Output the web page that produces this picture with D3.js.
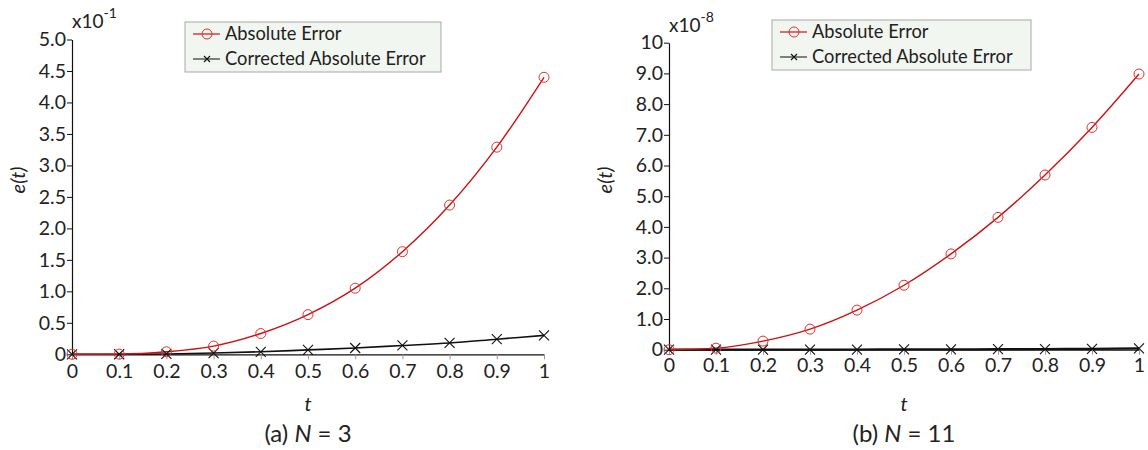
<!DOCTYPE html>
<html>
<head>
<meta charset="utf-8">
<script src="https://cdn.jsdelivr.net/npm/d3@7"></script>
<style>
  body { margin: 0; background: #fff; }
  svg text { font-family: Lato, "Open Sans", sans-serif; fill: #222; }
  .domain { stroke: #111; stroke-width: 1.2; }
  .xAxis .tick line { stroke: #999; }
  .yAxis .tick line { stroke: #111; }
</style>
</head>
<body>
<div class="container"></div>
<script>
// t values shared by both panels
var tValues = [0, 0.1, 0.2, 0.3, 0.4, 0.5, 0.6, 0.7, 0.8, 0.9, 1];
var xTicks = [0, 0.1, 0.2, 0.3, 0.4, 0.5, 0.6, 0.7, 0.8, 0.9, 1];
var xTickLabels = ["0", "0.1", "0.2", "0.3", "0.4", "0.5", "0.6", "0.7", "0.8", "0.9", "1"];

// panel (a) N = 3, values in units of 1e-1
var absErrA = [0, 0.003, 0.04, 0.13, 0.33, 0.63, 1.05, 1.63, 2.37, 3.29, 4.40];
var corrErrA = [0, 0.001, 0.005, 0.02, 0.04, 0.07, 0.10, 0.14, 0.18, 0.24, 0.30];
var yTicksA = [0, 0.5, 1, 1.5, 2, 2.5, 3, 3.5, 4, 4.5, 5];
var yTickLabelsA = ["0", "0.5", "1.0", "1.5", "2.0", "2.5", "3.0", "3.5", "4.0", "4.5", "5.0"];

// panel (b) N = 11, values in units of 1e-8
var absErrB = [0, 0.05, 0.28, 0.67, 1.29, 2.10, 3.12, 4.31, 5.69, 7.24, 8.98];
var corrErrB = [0, 0, 0.002, 0.004, 0.006, 0.009, 0.012, 0.016, 0.022, 0.03, 0.04];
var yTicksB = [0, 1, 2, 3, 4, 5, 6, 7, 8, 9, 10];
var yTickLabelsB = ["0", "1.0", "2.0", "3.0", "4.0", "5.0", "6.0", "7.0", "8.0", "9.0", "10"];

var legendNames = ["Absolute Error", "Corrected Absolute Error"];

var RED = "#cc1111";

var svg = d3.select('.container').append('svg')
  .attr('width', 1148)
  .attr('height', 450);

var translate = function (x, y) {
  return "translate(" + x + "," + y + ")";
};

var drawCircle = function (g, x, y) {
  g.append('circle')
    .attr('cx', x).attr('cy', y).attr('r', 5)
    .attr('fill', 'none')
    .attr('stroke', '#e03030')
    .attr('stroke-width', 1);
};

var drawCross = function (g, x, y, s) {
  g.append('path')
    .attr('d', 'M' + (x - s) + ',' + (y - s) + 'L' + (x + s) + ',' + (y + s) +
      'M' + (x - s) + ',' + (y + s) + 'L' + (x + s) + ',' + (y - s))
    .attr('stroke', '#111')
    .attr('stroke-width', 1.1);
};

var drawPanel = function (p) {
  var xScale = d3.scaleLinear().domain([0, 1]).range([p.left, p.right]);
  var yScale = d3.scaleLinear().domain([0, p.yMax]).range([p.bottom, p.top]);

  var xAxis = d3.axisBottom(xScale)
    .tickValues(xTicks)
    .tickFormat(function (d, i) { return xTickLabels[i]; })
    .tickSizeInner(5).tickSizeOuter(0).tickPadding(p.xPad);
  var yAxis = d3.axisLeft(yScale)
    .tickValues(p.yTicks)
    .tickFormat(function (d, i) { return p.yLabels[i]; })
    .tickSizeInner(5).tickSizeOuter(0).tickPadding(1);

  var gx = svg.append('g')
    .attr('transform', translate(0, p.bottom))
    .classed('xAxis', true)
    .call(xAxis);
  gx.selectAll('text').style('font-size', '19.5px').attr('fill', '#222');

  var gy = svg.append('g')
    .attr('transform', translate(p.left, 0))
    .classed('yAxis', true)
    .call(yAxis);
  gy.selectAll('text').style('font-size', '19.5px').attr('fill', '#222');

  // exponent label
  var ex = svg.append('text')
    .attr('x', p.left).attr('y', p.expY)
    .style('font-size', '19px');
  ex.append('tspan').text('x10');
  ex.append('tspan').attr('dy', -10).style('font-size', '14px').text(p.exponent);

  // axis titles
  svg.append('text')
    .attr('transform', translate(p.yLabelX, 180) + ' rotate(-90)')
    .attr('text-anchor', 'middle')
    .style('font-size', '20px')
    .style('font-style', 'italic')
    .text('e(t)');
  svg.append('text')
    .attr('x', (p.left + p.right) / 2).attr('y', 411)
    .attr('text-anchor', 'middle')
    .style('font-size', '20px')
    .style('font-style', 'italic')
    .text('t');

  var cap = svg.append('text')
    .attr('x', (p.left + p.right) / 2).attr('y', 442)
    .attr('text-anchor', 'middle')
    .style('font-size', '24px');
  cap.append('tspan').text(p.caption[0]);
  cap.append('tspan').style('font-style', 'italic').text(p.caption[1]);
  cap.append('tspan').text(p.caption[2]);

  var line = d3.line()
    .x(function (d, i) { return xScale(tValues[i]); })
    .y(function (d) { return yScale(d); })
    .curve(d3.curveMonotoneX);

  var g = svg.append('g');
  g.append('path')
    .attr('d', line(p.corr))
    .attr('fill', 'none')
    .attr('stroke', '#111')
    .attr('stroke-width', p.corrWidth);
  g.append('path')
    .attr('d', line(p.abs))
    .attr('fill', 'none')
    .attr('stroke', RED)
    .attr('stroke-width', 1.4);

  p.corr.forEach(function (d, i) {
    drawCross(g, xScale(tValues[i]), yScale(d), 5);
  });
  p.abs.forEach(function (d, i) {
    drawCircle(g, xScale(tValues[i]), yScale(d));
  });

  // legend
  var lg = svg.append('g').attr('transform', translate(p.legX, p.legY));
  lg.append('rect')
    .attr('width', p.legW).attr('height', 50)
    .attr('fill', '#f2f6f0')
    .attr('stroke', '#a8a8a8')
    .attr('stroke-width', 1);
  [0, 1].forEach(function (k) {
    var cy = 12 + k * 25;
    lg.append('line')
      .attr('x1', 8).attr('x2', 35).attr('y1', cy).attr('y2', cy)
      .attr('stroke', k === 0 ? RED : '#333')
      .attr('stroke-width', 1.2);
    if (k === 0) drawCircle(lg, 22, cy);
    else drawCross(lg, 22, cy, 3);
    lg.append('text')
      .attr('x', 40).attr('y', cy + 6)
      .style('font-size', '18.3px')
      .text(legendNames[k]);
  });
};

drawPanel({
  left: 72, right: 544, top: 39.5, bottom: 354.3, yMax: 5, xPad: 5,
  yTicks: yTicksA, yLabels: yTickLabelsA, exponent: '-1', expY: 28,
  abs: absErrA, corr: corrErrA, corrWidth: 1.6,
  yLabelX: 25, caption: ['(a) ', 'N', ' = 3'],
  legX: 185, legY: 22, legW: 256
});

drawPanel({
  left: 669, right: 1139, top: 42.7, bottom: 349.7, yMax: 10, xPad: 3,
  yTicks: yTicksB, yLabels: yTickLabelsB, exponent: '-8', expY: 32,
  abs: absErrB, corr: corrErrB, corrWidth: 2.2,
  yLabelX: 612, caption: ['(b) ', 'N', ' = 11'],
  legX: 772, legY: 20, legW: 259
});
</script>
</body>
</html>
